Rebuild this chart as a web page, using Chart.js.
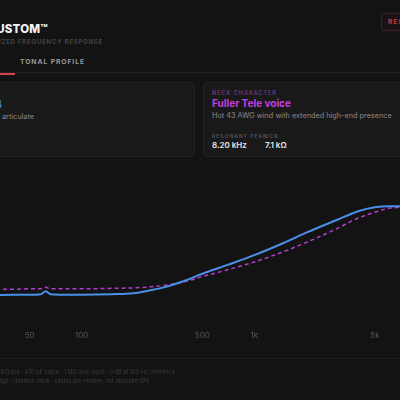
<!DOCTYPE html>
<html>
<head>
<meta charset="utf-8">
<script src="https://cdn.jsdelivr.net/npm/chart.js@4"></script>
<style>
  html, body { margin: 0; padding: 0; }
  body {
    width: 400px; height: 400px; overflow: hidden; position: relative;
    background: #131313; font-family: "Inter", "Noto Sans", sans-serif; color: #ddd;
  }
  .abs { position: absolute; white-space: nowrap; }
  .title { right: 352px; top: 22px; font-size: 11.5px; font-weight: 800; color: #f2f2f2; letter-spacing: 0.2px; }
  .subtitle { right: 297px; top: 38px; font-size: 6px; font-weight: 600; color: #484848; letter-spacing: 0.8px; }
  .reset { left: 381px; top: 13px; padding: 4px 6px; font-size: 6.5px; font-weight: 700; letter-spacing: 1px;
           color: #c83a44; border: 1px solid #3e1e22; border-radius: 3px; background: #1a1315; }
  .tabline { left: 0; top: 72px; width: 400px; height: 1px; background: #232323; }
  .tab { top: 57px; font-size: 6.8px; font-weight: 700; letter-spacing: 0.9px; color: #9a9a9a; }
  .tab.active { right: 385px; color: #e44; padding: 0 14px 7px 0; border-bottom: 2px solid #d8404a; top: 57px; }
  .card { top: 82px; height: 75px; background: #191919; border: 1px solid #242424; border-radius: 5px; box-sizing: border-box; }
  .lbl { font-size: 5.5px; font-weight: 600; letter-spacing: 1px; color: #555; }
  .chartbox { position: absolute; left: -50px; top: 170px; width: 540px; height: 190px; }
  .footline { left: 0; top: 358px; width: 400px; height: 1px; background: #1d1d1d; }
  .foot { font-size: 5.6px; color: #3c3c3c; }
</style>
</head>
<body>
  <div class="abs title">TELE NECK — CUSTOM™</div>
  <div class="abs subtitle">NORMALIZED FREQUENCY RESPONSE</div>
  <div class="abs reset">RESET</div>

  <div class="abs tab active">RESPONSE</div>
  <div class="abs tab" style="left:20px;">TONAL PROFILE</div>
  <div class="abs tabline"></div>

  <div class="abs card" style="left:-160px; width:355px;">
    <div class="abs lbl" style="right:200px; top:7px; color:#2f5a8c;">BRIDGE CHARACTER</div>
    <div class="abs" style="right:192px; top:15px; font-size:10px; font-weight:700; color:#4a8fe8;">Snappy, 60s bite 4</div>
    <div class="abs" style="right:160px; top:29px; font-size:7.3px; color:#8a8a8a;">Bright, tight and articulate</div>
  </div>

  <div class="abs card" style="left:203px; width:210px;">
    <div class="abs lbl" style="left:8px; top:7px; color:#6e3a80;">NECK CHARACTER</div>
    <div class="abs" style="left:8px; top:14px; font-size:10px; font-weight:700; color:#c33ee0;">Fuller Tele voice</div>
    <div class="abs" style="left:8px; top:28px; font-size:7.3px; color:#8a8a8a;">Hot 43 AWG wind with extended high-end presence</div>
    <div class="abs lbl" style="left:8px; top:50px; font-size:5px;">RESONANT PEAK</div>
    <div class="abs" style="left:8px; top:57px; font-size:8px; font-weight:600; color:#e8e8e8;">8.20 kHz</div>
    <div class="abs lbl" style="left:61px; top:50px; font-size:5px;">DCR</div>
    <div class="abs" style="left:61px; top:57px; font-size:8px; font-weight:600; color:#e8e8e8;">7.1 kΩ</div>
  </div>

  <div class="chartbox"><canvas id="freq"></canvas></div>

  <div class="abs footline"></div>
  <div class="abs foot" style="right:225px; top:369px;">Curves simulated · 250kΩ pot · 470 pF cable · 1 MΩ amp input · 0 dB at 100 Hz reference</div>
  <div class="abs foot" style="right:250px; top:378px;">Solid: bridge / dashed: neck · values are relative, not absolute SPL</div>

<script>
// frequency points (Hz)
const freqs = [20, 30, 40, 50, 58, 62, 66, 80, 100, 150, 200, 250, 300, 400, 500, 700,
  1000, 1500, 2000, 3000, 4000, 5000, 6000, 7000, 8200, 10000, 15000, 20000];

// relative response, dB
const bridgeDb = [0.2, 0.2, 0.25, 0.25, 0.3, 0.6, 0.3, 0.25, 0.25, 0.3, 0.4, 0.7, 1.0, 1.7, 2.4, 3.3,
  4.3, 5.6, 6.6, 7.9, 8.8, 9.2, 9.3, 9.3, 9.0, 7.5, 3.0, -1.0];
const neckDb = [0.8, 0.8, 0.8, 0.85, 0.85, 1.0, 0.85, 0.85, 0.85, 0.9, 0.95, 1.05, 1.2, 1.6, 2.1, 2.8,
  3.6, 4.7, 5.6, 7.0, 8.1, 8.7, 9.1, 9.2, 9.3, 8.0, 4.0, 0.0];

const tickFreqs = [20, 50, 100, 500, 1000, 5000, 10000, 20000];

function fmtHz(v) {
  return v >= 1000 ? (v / 1000) + 'k' : String(v);
}

new Chart(document.getElementById('freq'), {
  type: 'line',
  data: {
    datasets: [
      {
        label: 'Bridge',
        data: freqs.map((f, i) => ({ x: f, y: bridgeDb[i] })),
        borderColor: '#4a8fe8',
        borderWidth: 2,
        pointRadius: 0,
        cubicInterpolationMode: 'monotone'
      },
      {
        label: 'Neck',
        data: freqs.map((f, i) => ({ x: f, y: neckDb[i] })),
        borderColor: '#b43cd2',
        borderWidth: 1.5,
        borderDash: [4, 3],
        pointRadius: 0,
        cubicInterpolationMode: 'monotone'
      }
    ]
  },
  options: {
    responsive: true,
    maintainAspectRatio: false,
    animation: false,
    layout: { padding: { left: 11, right: 11, top: 10, bottom: 16 } },
    plugins: { legend: { display: false }, tooltip: { enabled: false } },
    scales: {
      x: {
        type: 'logarithmic',
        min: 20,
        max: 20000,
        grid: { display: false, drawTicks: false },
        border: { display: false },
        afterBuildTicks: (axis) => { axis.ticks = tickFreqs.map(v => ({ value: v })); },
        ticks: {
          color: '#555',
          padding: 4,
          maxRotation: 0,
          autoSkip: false,
          font: { size: 8, family: 'Inter' },
          callback: (v) => fmtHz(v)
        }
      },
      y: {
        display: false,
        min: -3,
        max: 12
      }
    }
  }
});
</script>
</body>
</html>
